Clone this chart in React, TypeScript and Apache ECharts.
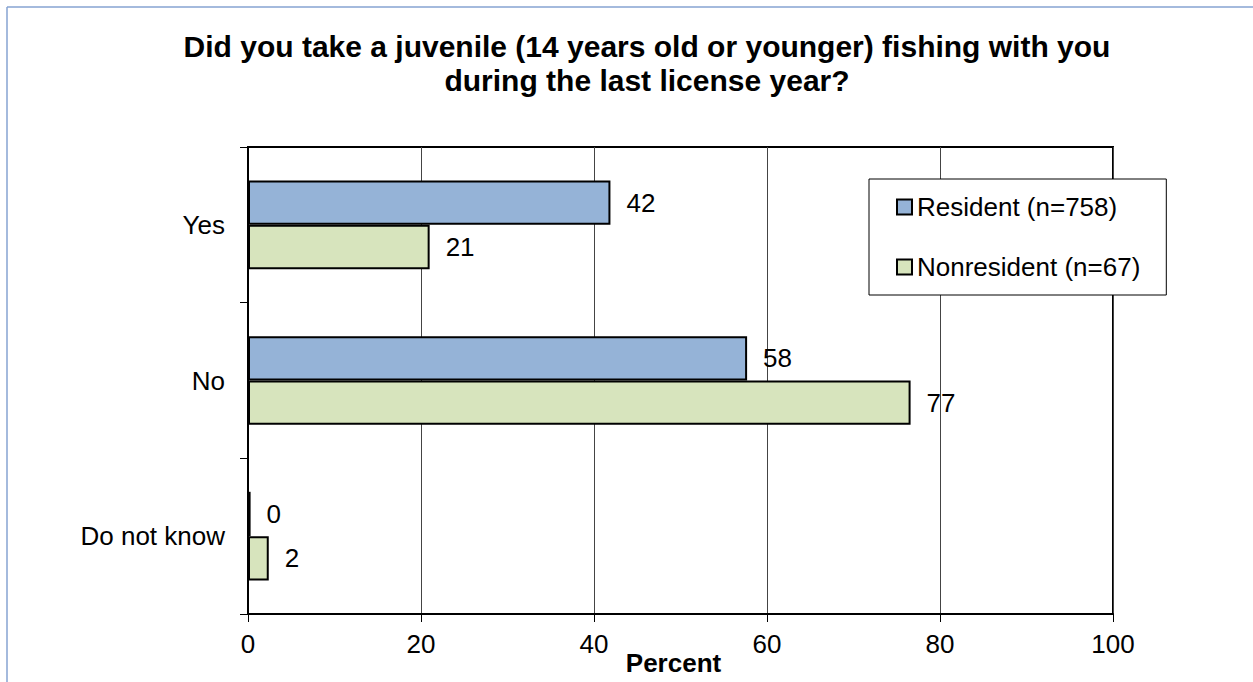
import React, { useEffect, useRef } from "react";
import * as echarts from "echarts";

const categories = ["Yes", "No", "Do not know"];
const residentValues = [41.9, 57.7, 0.3];
const nonresidentValues = [21.0, 76.6, 2.4];
const seriesNames = ["Resident (n=758)", "Nonresident (n=67)"];
const xTicks = { min: 0, max: 100, interval: 20 };
const titleText =
  "Did you take a juvenile (14 years old or younger) fishing with you\nduring the last license year?";

export default function App() {
  const ref = useRef<HTMLDivElement>(null);
  useEffect(() => {
    if (!ref.current) return;
    const chart = echarts.init(ref.current, null, { renderer: "svg" });
    const font = "Liberation Sans, Arial, sans-serif";
    const labelCfg = {
      show: true,
      position: "right",
      distance: 16,
      fontSize: 26,
      color: "#000",
      fontFamily: font,
      formatter: (p: any) => String(Math.round(p.value)),
    };
    chart.setOption({
      animation: false,
      backgroundColor: "#fff",
      title: {
        text: titleText,
        left: 642,
        top: 24,
        textAlign: "center",
        textStyle: {
          fontSize: 30,
          fontWeight: "bold",
          color: "#000",
          fontFamily: font,
          lineHeight: 34,
        },
      },
      legend: {
        orient: "vertical",
        left: 869,
        top: 179,
        padding: [15, 26, 15, 27],
        itemGap: 34,
        itemWidth: 15,
        itemHeight: 15,
        icon: "rect",
        backgroundColor: "#fff",
        borderColor: "#000",
        borderWidth: 1,
        borderRadius: 0,
        textStyle: { fontSize: 26, color: "#000", fontFamily: font },
        data: seriesNames,
      },
      grid: {
        left: 248,
        right: 140,
        top: 147,
        bottom: 68,
        show: true,
        borderColor: "#000",
        borderWidth: 2,
        backgroundColor: "transparent",
        containLabel: false,
        outerBoundsMode: "none",
      },
      xAxis: {
        type: "value",
        min: xTicks.min,
        max: xTicks.max,
        interval: xTicks.interval,
        name: "Percent",
        nameLocation: "middle",
        nameGap: 36,
        nameMoveOverlap: false,
        nameTextStyle: {
          fontSize: 26,
          fontWeight: "bold",
          color: "#000",
          fontFamily: font,
          padding: [0, 14, 0, 0],
        },
        axisLine: { show: true, lineStyle: { color: "#000", width: 2 } },
        axisTick: { show: true, length: 8, lineStyle: { color: "#000", width: 1 } },
        axisLabel: { fontSize: 26, color: "#000", margin: 17, fontFamily: font },
        splitLine: { show: true, lineStyle: { color: "#444", width: 1 } },
      },
      yAxis: {
        type: "category",
        data: categories,
        inverse: true,
        axisLine: { show: true, lineStyle: { color: "#000", width: 2 } },
        axisTick: { show: true, length: 8, lineStyle: { color: "#000", width: 1 } },
        axisLabel: { fontSize: 26, color: "#000", margin: 23, fontFamily: font },
        splitLine: { show: false },
      },
      graphic: [
        { type: "line", shape: { x1: 7, y1: 7, x2: 1253, y2: 7 }, style: { stroke: "#86a3d2", lineWidth: 1.5 } },
        { type: "line", shape: { x1: 7, y1: 7, x2: 7, y2: 682 }, style: { stroke: "#86a3d2", lineWidth: 1.5 } },
      ],
      series: [
        {
          name: seriesNames[0],
          type: "bar",
          data: residentValues,
          barGap: "0%",
          barCategoryGap: "43%",
          itemStyle: { color: "#95b3d7", borderColor: "#000", borderWidth: 2 },
          label: labelCfg,
        },
        {
          name: seriesNames[1],
          type: "bar",
          data: nonresidentValues,
          barGap: "0%",
          barCategoryGap: "43%",
          itemStyle: { color: "#d7e4bd", borderColor: "#000", borderWidth: 2 },
          label: labelCfg,
        },
      ],
    });
    return () => chart.dispose();
  }, []);
  return (
    <div
      ref={ref}
      style={{ position: "fixed", left: 0, top: 0, width: 1253, height: 682 }}
    />
  );
}
